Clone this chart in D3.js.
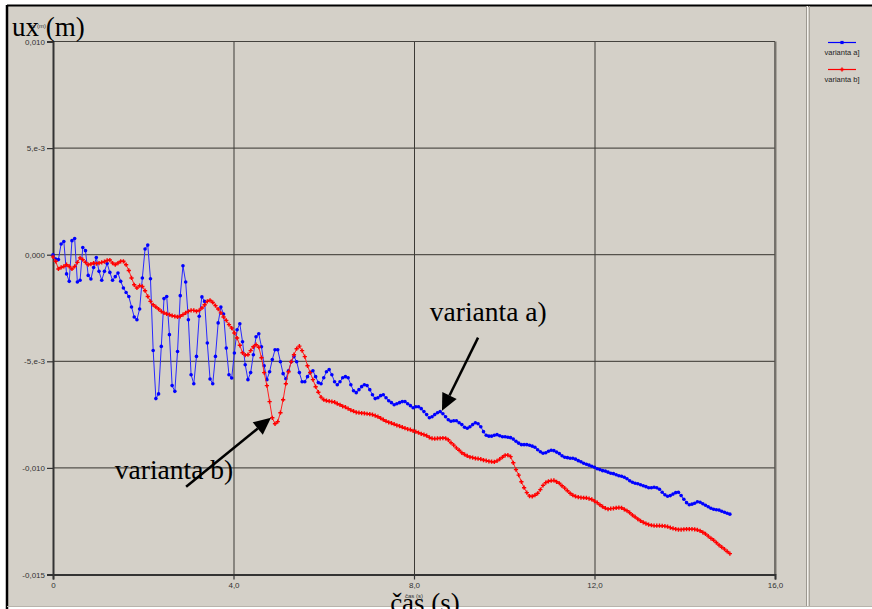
<!DOCTYPE html>
<html>
<head>
<meta charset="utf-8">
<script src="https://cdnjs.cloudflare.com/ajax/libs/d3/7.8.5/d3.min.js"></script>
<style>
  body { margin: 0; background: #fff; }
  svg { display: block; }
  .tick text { font-family: "Liberation Sans", Arial, sans-serif; font-size: 8px; fill: #333; }
</style>
</head>
<body>
<svg id="chart" width="872" height="609"></svg>
<script>
// sample step of the time history (s)
var dt = 0.06;

// ux in 1e-3 m, one value per time step
var uxA = [
  0, -0.2, -0.23, 0.5, 0.62, -0.9, -1.25, 0.66, 0.76, -1.28,
  -1.2, 0.34, 0.19, -0.97, -1.14, -0.6, -0.13, -0.78, -1.2, -0.78,
  -0.41, -0.83, -1.2, -1.03, -0.86, -1.25, -1.56, -1.77, -1.96, -2.45,
  -2.92, -3.05, -2.55, -1.09, 0.27, 0.45, -1.13, -4.49, -6.75, -6.53,
  -4.3, -2.06, -1.96, -3.75, -6.14, -6.41, -4.54, -1.92, -0.52, -1.28,
  -3.05, -5.63, -6.05, -4.77, -2.89, -1.98, -2.19, -4.14, -5.83, -6.05,
  -4.77, -3.2, -2.45, -2.78, -4.38, -5.63, -5.78, -4.61, -3.52, -3.24,
  -4.08, -5.16, -5.86, -5.53, -4.69, -3.85, -3.71, -4.32, -5.21, -5.86,
  -5.49, -4.92, -4.46, -4.46, -5.02, -5.58, -5.82, -5.44, -5.02, -4.78,
  -5.02, -5.53, -5.96, -5.96, -5.72, -5.53, -5.44, -5.72, -6.0, -6.05,
  -5.77, -5.49, -5.39, -5.63, -5.96, -6.1, -5.96, -5.77, -5.72, -5.77,
  -6.1, -6.38, -6.47, -6.33, -6.19, -6.1, -6.14, -6.33, -6.57, -6.75,
  -6.71, -6.61, -6.57, -6.71, -6.85, -6.94, -7.04, -6.99, -6.94, -6.89,
  -6.89, -6.99, -7.08, -7.18, -7.13, -7.13, -7.22, -7.36, -7.5, -7.65,
  -7.6, -7.5, -7.41, -7.36, -7.46, -7.6, -7.74, -7.81, -7.79, -7.79,
  -7.88, -7.97, -8.09, -8.14, -8.07, -7.97, -7.88, -7.93, -8.07, -8.3,
  -8.47, -8.51, -8.51, -8.47, -8.44, -8.49, -8.54, -8.54, -8.56, -8.58,
  -8.65, -8.75, -8.84, -8.91, -8.91, -8.91, -8.94, -8.98, -9.03, -9.15,
  -9.24, -9.31, -9.29, -9.22, -9.17, -9.19, -9.26, -9.33, -9.43, -9.5,
  -9.52, -9.55, -9.55, -9.59, -9.66, -9.71, -9.78, -9.83, -9.87, -9.92,
  -9.97, -10.04, -10.08, -10.13, -10.15, -10.2, -10.25, -10.27, -10.32, -10.37,
  -10.39, -10.44, -10.51, -10.6, -10.67, -10.72, -10.74, -10.79, -10.84, -10.88,
  -10.93, -10.93, -10.91, -10.93, -11.0, -11.14, -11.26, -11.33, -11.3, -11.23,
  -11.16, -11.14, -11.3, -11.47, -11.63, -11.73, -11.7, -11.66, -11.59, -11.61,
  -11.68, -11.75, -11.82, -11.89, -11.94, -11.96, -11.98, -12.03, -12.08, -12.13, -12.17
];

var uxB = [
  -0.1, -0.31, -0.67, -0.6, -0.55, -0.47, -0.55, -0.67, -0.55, -0.36,
  -0.15, -0.23, -0.36, -0.47, -0.44, -0.39, -0.42, -0.39, -0.36, -0.33,
  -0.27, -0.25, -0.39, -0.47, -0.39, -0.31, -0.31, -0.47, -0.74, -1.09,
  -1.41, -1.56, -1.45, -1.49, -1.69, -1.96, -2.19, -2.35, -2.45, -2.55,
  -2.66, -2.73, -2.78, -2.81, -2.86, -2.89, -2.92, -2.89, -2.81, -2.73,
  -2.66, -2.61, -2.61, -2.66, -2.61, -2.5, -2.35, -2.19, -2.14, -2.24,
  -2.39, -2.55, -2.73, -2.92, -3.08, -3.28, -3.44, -3.67, -3.91, -4.25,
  -4.6, -4.71, -4.69, -4.5, -4.32, -4.22, -4.34, -4.83, -5.53, -6.14,
  -6.89, -7.65, -7.93, -7.83, -7.41, -6.8, -6.05, -5.49, -5.02, -4.69,
  -4.41, -4.29, -4.5, -4.78, -5.21, -5.53, -5.86, -6.19, -6.45, -6.68,
  -6.8, -6.85, -6.87, -6.89, -6.92, -6.99, -7.04, -7.11, -7.15, -7.22,
  -7.29, -7.34, -7.39, -7.41, -7.43, -7.44, -7.46, -7.48, -7.5, -7.55,
  -7.6, -7.67, -7.74, -7.81, -7.86, -7.9, -7.95, -8.0, -8.04, -8.09,
  -8.14, -8.18, -8.21, -8.26, -8.3, -8.35, -8.4, -8.44, -8.49, -8.57,
  -8.62, -8.63, -8.62, -8.61, -8.6, -8.61, -8.68, -8.82, -8.93, -9.06,
  -9.17, -9.29, -9.37, -9.44, -9.49, -9.52, -9.55, -9.57, -9.59, -9.63,
  -9.66, -9.69, -9.71, -9.72, -9.67, -9.59, -9.5, -9.41, -9.4, -9.47,
  -9.76, -10.08, -10.34, -10.65, -10.93, -11.16, -11.32, -11.34, -11.28, -11.19,
  -11.02, -10.82, -10.69, -10.63, -10.6, -10.59, -10.65, -10.72, -10.84, -10.95,
  -11.07, -11.19, -11.28, -11.34, -11.37, -11.39, -11.4, -11.41, -11.44, -11.48,
  -11.56, -11.63, -11.73, -11.82, -11.89, -11.93, -11.91, -11.9, -11.88, -11.86,
  -11.87, -11.94, -12.01, -12.1, -12.21, -12.3, -12.4, -12.48, -12.55, -12.61,
  -12.66, -12.69, -12.71, -12.71, -12.71, -12.72, -12.73, -12.76, -12.8, -12.84,
  -12.87, -12.89, -12.89, -12.88, -12.87, -12.87, -12.87, -12.88, -12.91, -12.95,
  -13.02, -13.1, -13.2, -13.3, -13.39, -13.5, -13.62, -13.72, -13.81, -13.92, -14.02
];

var xTicks = [0, 4, 8, 12, 16];
var xTickLabels = ["0", "4,0", "8,0", "12,0", "16,0"];
var yTicks = [10, 5, 0, -5, -10, -15];
var yTickLabels = ["0,010", "5,e-3", "0,000", "-5,e-3", "-0,010", "-0,015"];
var seriesNames = ["varianta a]", "varianta b]"];
var seriesColors = ["#0000ff", "#ff0000"];

var svg = d3.select("#chart");

// window frame
svg.append("rect").attr("x", 7).attr("y", 5).attr("width", 865).attr("height", 602).attr("fill", "#d4d0c8");
svg.append("line").attr("x1", 7).attr("x2", 872).attr("y1", 5.5).attr("y2", 5.5).attr("stroke", "#000").attr("stroke-width", 2);
svg.append("line").attr("x1", 7).attr("x2", 7).attr("y1", 5).attr("y2", 609).attr("stroke", "#000").attr("stroke-width", 2.5);
svg.append("line").attr("x1", 7).attr("x2", 872).attr("y1", 606.5).attr("y2", 606.5).attr("stroke", "#b8b4ac");
// splitter between plot and legend panel
svg.append("line").attr("x1", 806.5).attr("x2", 806.5).attr("y1", 6).attr("y2", 606).attr("stroke", "#9c9890");
svg.append("line").attr("x1", 807.5).attr("x2", 807.5).attr("y1", 6).attr("y2", 606).attr("stroke", "#f4f2ee");
svg.append("line").attr("x1", 809.5).attr("x2", 809.5).attr("y1", 6).attr("y2", 606).attr("stroke", "#a8a49c");

var x = d3.scaleLinear().domain([0, 16]).range([53, 775]);
var y = d3.scaleLinear().domain([-15, 10]).range([574.5, 41.5]);

// grid
svg.append("g").selectAll("line").data([5, 0, -5, -10]).join("line")
  .attr("x1", x(0)).attr("x2", x(16))
  .attr("y1", function(d) { return y(d); }).attr("y2", function(d) { return y(d); })
  .attr("stroke", "#55524c").attr("stroke-width", 1.2);
svg.append("g").selectAll("line").data([4, 8, 12]).join("line")
  .attr("x1", function(d) { return x(d) + 0.5; }).attr("x2", function(d) { return x(d) + 0.5; })
  .attr("y1", y(10)).attr("y2", y(-15))
  .attr("stroke", "#3c3a36").attr("stroke-width", 1);

// plot border (top / right)
svg.append("line").attr("x1", x(0)).attr("x2", x(16)).attr("y1", y(10)).attr("y2", y(10)).attr("stroke", "#44423e").attr("stroke-width", 1.2);
svg.append("line").attr("x1", x(16)).attr("x2", x(16)).attr("y1", y(10)).attr("y2", y(-15)).attr("stroke", "#55524c").attr("stroke-width", 1.5);
svg.append("line").attr("x1", x(16) + 1.5).attr("x2", x(16) + 1.5).attr("y1", y(10)).attr("y2", y(-15)).attr("stroke", "#a8a49c").attr("stroke-width", 1);

// axes
var yAxis = d3.axisLeft(y).tickValues(yTicks).tickSize(6).tickPadding(2)
  .tickFormat(function(d, i) { return yTickLabels[i]; });
var xAxis = d3.axisBottom(x).tickValues(xTicks).tickSize(5).tickPadding(3)
  .tickFormat(function(d, i) { return xTickLabels[i]; });

var gy = svg.append("g").attr("transform", "translate(" + x(0) + ",0)").call(yAxis);
var gx = svg.append("g").attr("transform", "translate(0," + y(-15) + ")").call(xAxis);
[gy, gx].forEach(function(g) {
  g.select(".domain").attr("stroke", "#333").attr("stroke-width", 2);
  g.selectAll(".tick line").attr("stroke", "#333").attr("stroke-width", 1.2);
});

// series
var line = d3.line()
  .x(function(d, i) { return x(i * dt); })
  .y(function(d) { return y(d); });

svg.append("path").datum(uxA).attr("d", line)
  .attr("fill", "none").attr("stroke", "#2828ff").attr("stroke-width", 1);
svg.append("g").selectAll("circle").data(uxA).join("circle")
  .attr("cx", function(d, i) { return x(i * dt); })
  .attr("cy", function(d) { return y(d); })
  .attr("r", 1.8).attr("fill", "#0000ff");

svg.append("path").datum(uxB).attr("d", line)
  .attr("fill", "none").attr("stroke", "#ff2020").attr("stroke-width", 1);
var cross = d3.symbol().type(d3.symbolCross).size(10);
svg.append("g").selectAll("path").data(uxB).join("path")
  .attr("transform", function(d, i) { return "translate(" + x(i * dt) + "," + y(d) + ")"; })
  .attr("d", cross).attr("fill", "#ff0000");

// annotations with arrows
var notes = [
  { text: "varianta a)", tx: 8.35, ty: -3.1, from: [9.42, -3.89], to: [8.62, -7.32] },
  { text: "varianta b)", tx: 1.37, ty: -10.5, from: [2.95, -10.88], to: [4.83, -7.65] }
];
notes.forEach(function(n) {
  svg.append("text").attr("x", x(n.tx)).attr("y", y(n.ty))
    .attr("font-family", "'Liberation Serif', 'Times New Roman', serif")
    .attr("font-size", 27.5).attr("fill", "#000").text(n.text);
  var x1 = x(n.from[0]), y1 = y(n.from[1]), x2 = x(n.to[0]), y2 = y(n.to[1]);
  var a = Math.atan2(y2 - y1, x2 - x1), L = 17, W = 8;
  var bx = x2 - L * Math.cos(a), by = y2 - L * Math.sin(a);
  svg.append("line").attr("x1", x1).attr("y1", y1).attr("x2", bx).attr("y2", by)
    .attr("stroke", "#000").attr("stroke-width", 2.5);
  svg.append("path")
    .attr("d", "M" + x2 + "," + y2 +
      "L" + (bx + W * Math.sin(a)) + "," + (by - W * Math.cos(a)) +
      "L" + (bx - W * Math.sin(a)) + "," + (by + W * Math.cos(a)) + "Z")
    .attr("fill", "#000");
});

// small axis captions from the program
svg.append("text").attr("x", 29).attr("y", 28).attr("font-family", "'Liberation Sans', Arial, sans-serif")
  .attr("font-size", 6).attr("fill", "#333").text("ux (m)");
svg.append("text").attr("x", 414).attr("y", 598).attr("text-anchor", "middle")
  .attr("font-family", "'Liberation Sans', Arial, sans-serif").attr("font-size", 6).attr("fill", "#333").text("čas (s)");

// big axis titles
svg.append("text").attr("x", 12).attr("y", 36)
  .attr("font-family", "'Liberation Serif', 'Times New Roman', serif").attr("font-size", 27).attr("fill", "#000").text("ux (m)");
svg.append("text").attr("x", 425).attr("y", 612).attr("text-anchor", "middle")
  .attr("font-family", "'Liberation Serif', 'Times New Roman', serif").attr("font-size", 27).attr("fill", "#000").text("čas (s)");

// legend
var leg = svg.append("g").selectAll("g").data(seriesNames).join("g")
  .attr("transform", function(d, i) { return "translate(842," + (42.5 + i * 27) + ")"; });
leg.append("line").attr("x1", -14).attr("x2", 14).attr("stroke", function(d, i) { return seriesColors[i]; }).attr("stroke-width", 1.2);
leg.append("path").attr("d", function(d, i) {
    return i === 0 ? d3.symbol().type(d3.symbolSquare).size(10)() : cross();
  })
  .attr("fill", function(d, i) { return seriesColors[i]; });
leg.append("text").attr("y", 12).attr("text-anchor", "middle")
  .attr("font-family", "'Liberation Sans', Arial, sans-serif").attr("font-size", 7.5).attr("fill", "#222")
  .text(function(d) { return d; });
</script>
</body>
</html>
